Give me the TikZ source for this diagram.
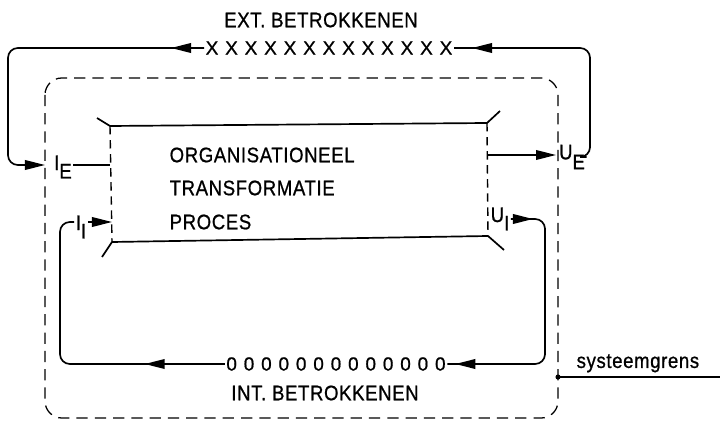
\documentclass[tikz,border=0pt]{standalone}
\usepackage{fontspec}
\setsansfont[LetterSpace=3,FakeStretch=0.88,FakeBold=0.8]{Liberation Sans}
\newfontfamily\rowfont[LetterSpace=36,FakeBold=0.8]{Liberation Sans}
\usetikzlibrary{arrows.meta,positioning}

\begin{document}
\begin{tikzpicture}[x=0.025cm,y=-0.025cm,every node/.style={font=\sffamily\fontsize{15}{17}\selectfont,inner sep=1pt},flow/.style={line width=1.2pt,rounded corners=7pt},tip/.style={-{Triangle[length=5mm,width=2.4mm]},line width=1.2pt},bound/.style={line width=0.9pt,dash pattern=on 8pt off 5pt,rounded corners=12pt},side/.style={line width=1pt,dash pattern=on 6pt off 4pt},row/.style={font={\rowfont\fontsize{13.5}{15}\selectfont}}]
\useasboundingbox (0,0) rectangle (720,425);

% systeemgrens
\draw[bound] (45,78) rectangle (558,418);
\coordinate (grens) at (558,377); \coordinate (rand) at (720,377);

% transformatie blok
\coordinate (tl) at (110,126); \coordinate (tr) at (487,123); \coordinate (bl) at (112,242); \coordinate (br) at (488,236);
\draw[line width=1.2pt] (tl)--(tr) (bl)--(br) (tl)--++(-13,-8) (tr)--++(13,-12) (bl)--++(-10,15) (br)--++(16,14);
\draw[side] (tl)--(bl) (tr)--(br);
\node[anchor=west] (org) at (168,155) {ORGANISATIONEEL};
\node[anchor=west] (trans) at (168,188) {TRANSFORMATIE};
\node[anchor=west] (proc) at (168,222) {PROCES};

% betrokkenen
\node (ext) at (321,20) {EXT. BETROKKENEN};
\node[row] (xrow) at (329,48) {XXXXXXXXXXXXX};
\node[row] (zrow) at (336,364) {0000000000000};
\node (int) at (325,393) {INT. BETROKKENEN};

% in- en uitgangen
\node (IE) at (63,167) {I\raisebox{-6pt}{E}};
\node (UE) at (572,157) {U\raisebox{-7pt}{E}};
\node (II) at (81,227) {I\raisebox{-6pt}{I}};
\node (UI) at (500,219) {U\raisebox{-6pt}{I}};
\coordinate (ein) at (45,165); \coordinate (uit) at (556,155); \coordinate (iin) at (112,222);
\coordinate (xl) at (8,48); \coordinate (xr) at (590,48); \coordinate (il) at (60,222); \coordinate (ur) at (545,364);

\draw[flow,tip] (xrow.west) -- (xl) |- (ein);
\draw[tip] (xrow.west) -- ++(-33,0);
\draw[line width=1.2pt] (IE.east |- ein) -- (tl |- ein);
\draw[tip] (tr |- uit) -- (uit);
\draw[flow] (UE.east) -| (xr) -- (xrow.east);
\draw[tip] (xrow.east) ++(40,0) -- ++(-22,0);

\draw[flow] (zrow.west) -| (il) -- (il -| II.west);
\draw[tip] (zrow.west) -- ++(-80,0);
\draw[tip] (II.east |- iin) -- (iin);
\draw[flow] (UI.east) -| (ur) -- (zrow.east);
\draw[tip] (UI.east) -- ++(22,0);
\draw[tip] (zrow.east) ++(40,0) -- ++(-32,0);

\node[anchor=south west] (sg) at (575,374) {systeemgrens};
\draw[line width=1pt] (grens) -- (rand);
\fill (grens) circle (1.8pt);
\end{tikzpicture}
\end{document}
